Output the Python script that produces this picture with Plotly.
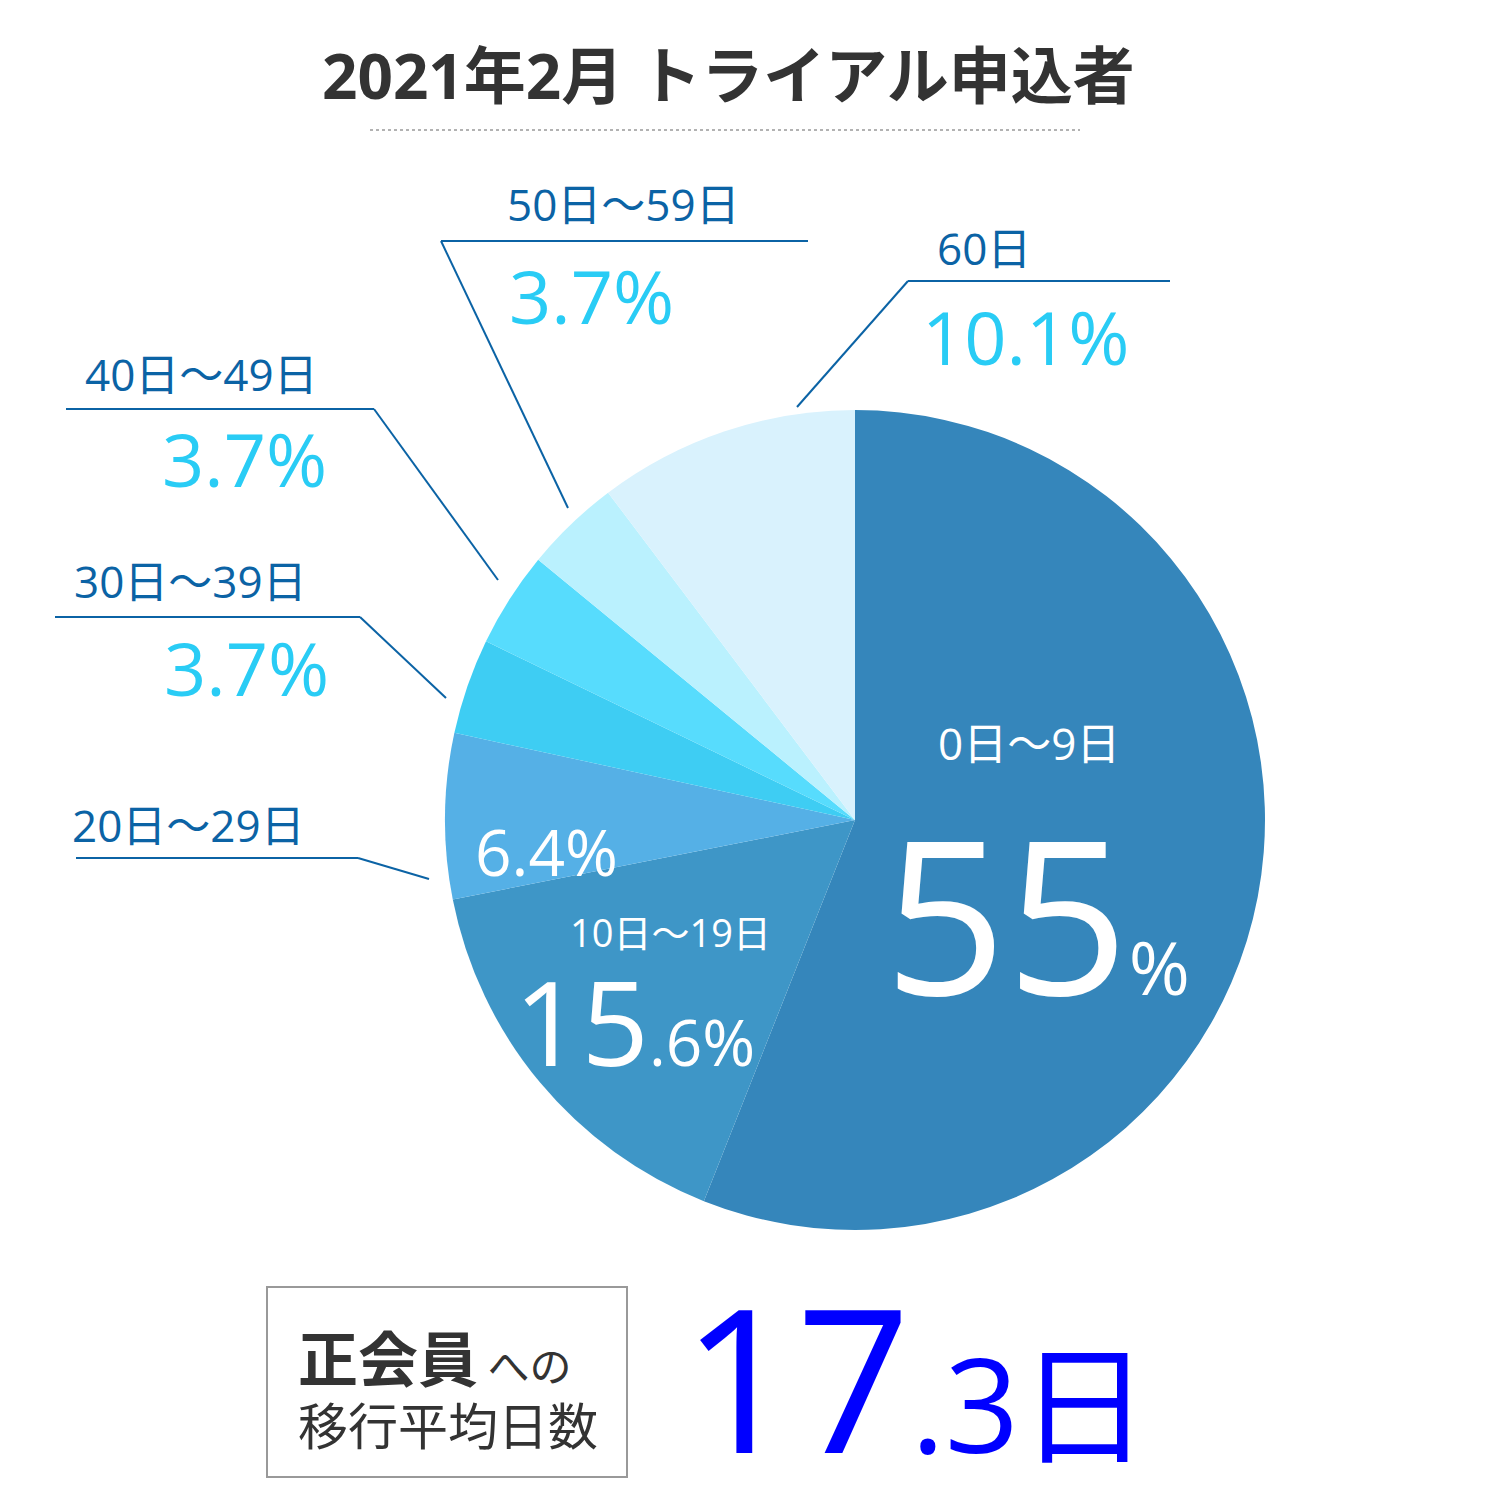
import plotly.graph_objects as go

labels = ["0日〜9日", "10日〜19日", "20日〜29日", "30日〜39日", "40日〜49日", "50日〜59日", "60日"]
values = [55, 15.6, 6.4, 3.7, 3.7, 3.7, 10.1]
colors = ["#3586BB", "#3E96C7", "#55B0E6", "#3ECDF3", "#57DCFD", "#BAF1FE", "#D9F2FD"]

W = H = 1500
# page body margin shifts everything by 8px
def px(x): return (x - 8) / W
def py(y): return 1 - (y - 8) / H

FONT = "Open Sans, Noto Sans CJK JP"
JP = "Noto Sans CJK JP"
DARK = "#0B63A5"
CYAN = "#29CCF5"

fig = go.Figure(go.Pie(
    labels=labels, values=values, sort=False, direction="clockwise", rotation=0,
    marker=dict(colors=colors, line=dict(width=0)), textinfo="none", hoverinfo="label+value",
    domain=dict(x=[px(445), px(1265)], y=[py(1230), py(410)]), showlegend=False,
))

ann = []
def text(x, y, s, size, color, anchor="left", bold=False, family=FONT):
    ann.append(dict(x=px(x), y=py(y), xref="paper", yref="paper", text=f"<b>{s}</b>" if bold else s,
                    showarrow=False, xanchor=anchor, yanchor="middle",
                    font=dict(family=family, size=size, color=color)))

shapes = []
def line(pts, color=DARK, width=2, dash=None):
    for (x0, y0), (x1, y1) in zip(pts, pts[1:]):
        shapes.append(dict(type="line", xref="paper", yref="paper", x0=px(x0), y0=py(y0), x1=px(x1), y1=py(y1),
                           line=dict(color=color, width=width, dash=dash)))

text(728, 75, "2021年2月 トライアル申込者", 62, "#333333", anchor="center", bold=True)
line([(370, 130), (1080, 130)], color="#999999", width=1.5, dash="dot")

# outside labels
text(935, 248, labels[6], 44, DARK)
text(920, 336, "10.1%", 74, CYAN)
line([(797, 407), (908, 281), (1170, 281)])

text(505, 204, labels[5], 44, DARK)
text(507, 296, "3.7%", 74, CYAN)
line([(568, 508), (441, 241), (808, 241)])

text(83, 374, labels[4], 44, DARK)
text(160, 458, "3.7%", 74, CYAN)
line([(498, 580), (374, 409), (66, 409)])

text(72, 581, labels[3], 44, DARK)
text(162, 668, "3.7%", 74, CYAN)
line([(446, 698), (360, 617), (55, 617)])

text(70, 825, labels[2], 44, DARK)
line([(429, 879), (358, 858), (76, 858)])

# inside labels
text(473, 851, "6.4%", 64, "white")
text(568, 932, labels[1], 38, "white")
text(512, 1020, "15<span style='font-size:64px'>.6%</span>", 118, "white")
text(936, 743, labels[0], 44, "white")
text(882, 912, "55<span style='font-size:74px'>%</span>", 214, "white")

# bottom box
shapes.append(dict(type="rect", xref="paper", yref="paper", x0=px(267), x1=px(627), y0=py(1477), y1=py(1287),
                   line=dict(color="#999999", width=2), fillcolor="white"))
text(296, 1355, "<b>正会員</b><span style='font-size:42px'> への</span>", 60, "#333333", family=JP)
text(296, 1423, "移行平均日数", 50, "#333333", family=JP)
text(680, 1375, "17<span style='font-size:130px'>.3日</span>", 200, "#0000FF")

fig.update_layout(width=W, height=H, margin=dict(l=0, r=0, t=0, b=0), paper_bgcolor="white",
                  plot_bgcolor="white", annotations=ann, shapes=shapes)
fig.write_html("out.html")
